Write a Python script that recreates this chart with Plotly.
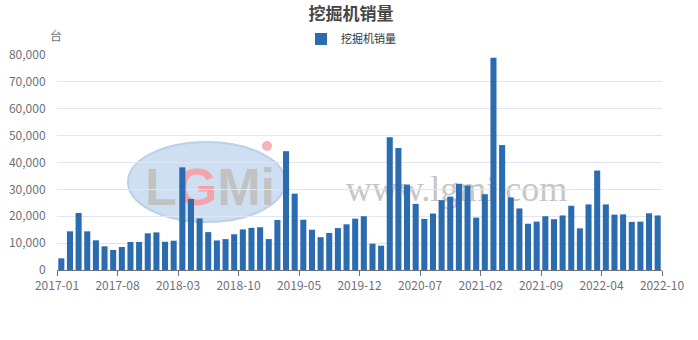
import plotly.graph_objects as go

# ---- data ----
months = [
    "2017-01","2017-02","2017-03","2017-04","2017-05","2017-06","2017-07","2017-08","2017-09","2017-10","2017-11","2017-12",
    "2018-01","2018-02","2018-03","2018-04","2018-05","2018-06","2018-07","2018-08","2018-09","2018-10","2018-11","2018-12",
    "2019-01","2019-02","2019-03","2019-04","2019-05","2019-06","2019-07","2019-08","2019-09","2019-10","2019-11","2019-12",
    "2020-01","2020-02","2020-03","2020-04","2020-05","2020-06","2020-07","2020-08","2020-09","2020-10","2020-11","2020-12",
    "2021-01","2021-02","2021-03","2021-04","2021-05","2021-06","2021-07","2021-08","2021-09","2021-10","2021-11","2021-12",
    "2022-01","2022-02","2022-03","2022-04","2022-05","2022-06","2022-07","2022-08","2022-09","2022-10",
]
sales = [
    4340, 14390, 21200, 14390, 11040, 8810, 7440, 8560, 10420, 10420, 13640, 14000,
    10500, 10900, 38200, 26400, 19200, 14100, 11000, 11500, 13300, 15100, 15700, 15900,
    11500, 18600, 44200, 28400, 18700, 15000, 12200, 13800, 15600, 17000, 19100, 20000,
    9800, 9050, 49400, 45400, 31800, 24600, 19000, 21000, 26000, 27300, 32100, 31400,
    19500, 28200, 79000, 46500, 27000, 22900, 17200, 18000, 20000, 18900, 20300, 23900,
    15500, 24400, 37000, 24400, 20600, 20700, 17900, 18000, 21100, 20300,
]
tick_labels = ["2017-01","2017-08","2018-03","2018-10","2019-05","2019-12",
               "2020-07","2021-02","2021-09","2022-04","2022-10"]
series_name = "挖掘机销量"
title_text = "挖掘机销量"
y_unit = "台"

# ---- layout geometry ----
W, H = 698, 340
L, R, T, B = 57, 36, 55, 70
PW, PH = W - L - R, H - T - B
YMAX = 80000
n = len(months)

def px(x):
    return (x - L) / PW

def py(y):
    return (H - B - y) / PH

def dx(x):
    return (x - L) / PW * n

def dy(y):
    return (H - B - y) / PH * YMAX

BAR_COLOR = "#2b6cb0"
AXIS_COLOR = "#6E7079"
GRID_COLOR = "#E0E6F1"
FONT = "Noto Sans CJK SC, Noto Sans, sans-serif"

xpos = [i + 0.5 for i in range(n)]
tickvals = [months.index(t) if t != months[-1] else n for t in tick_labels]

fig = go.Figure()
fig.add_trace(go.Bar(
    x=xpos, y=sales, name=series_name, marker_color=BAR_COLOR,
    marker_line_width=0, customdata=months,
    hovertemplate="%{customdata}<br>%{y:,}<extra></extra>",
))

shapes = [
    # watermark ellipse
    dict(type="circle", xref="x", yref="y",
         x0=dx(128), x1=dx(285), y0=dy(222), y1=dy(142),
         fillcolor="#cddff1", line=dict(color="#b9d1ea", width=2), layer="below"),
    dict(type="circle", xref="x", yref="y",
         x0=dx(262), x1=dx(272), y0=dy(151), y1=dy(141),
         fillcolor="#f6b3b8", line=dict(width=0), layer="below"),
    dict(type="rect", xref="x", yref="y",
         x0=dx(140), x1=dx(280), y0=dy(205), y1=dy(158),
         fillcolor="rgba(0,0,0,0)", line=dict(width=0), layer="below",
         label=dict(text="<b>L<span style='color:#f4a3aa'>G</span>Mi</b>",
                    font=dict(family="Liberation Sans", size=52, color="#c2c2c2"),
                    textposition="middle center")),
    dict(type="rect", xref="x", yref="y",
         x0=dx(343), x1=dx(570), y0=dy(206), y1=dy(164),
         fillcolor="rgba(0,0,0,0)", line=dict(width=0), layer="below",
         label=dict(text="www.lgmi.com",
                    font=dict(family="Liberation Serif", size=36, color="#c6c6c6"),
                    textposition="middle center")),
]

fig.update_layout(
    width=W, height=H,
    margin=dict(l=L, r=R, t=T, b=B, pad=0, autoexpand=False),
    paper_bgcolor="white", plot_bgcolor="white",
    font=dict(family=FONT, size=12, color=AXIS_COLOR),
    title=dict(text=f"<b>{title_text}</b>", x=351 / W, xanchor="center",
               y=1 - 14 / H, yanchor="middle", yref="container",
               font=dict(size=17, color="#464646", family=FONT)),
    showlegend=True,
    legend=dict(orientation="h", xref="container", yref="container",
                x=351 / W, xanchor="center", y=1 - 39 / H, yanchor="middle",
                font=dict(size=11, color="#333333", family=FONT),
                bgcolor="rgba(0,0,0,0)", itemclick=False),
    bargap=0.3,
    shapes=shapes,
    annotations=[dict(text=y_unit, xref="paper", yref="paper",
                      x=px(56), y=py(36), xanchor="center", yanchor="middle",
                      showarrow=False, font=dict(size=12, color=AXIS_COLOR, family=FONT))],
    xaxis=dict(range=[0, n], tickmode="array", tickvals=tickvals, ticktext=tick_labels,
               showgrid=False, zeroline=False, showline=True, linecolor=AXIS_COLOR,
               linewidth=1, ticks="outside", ticklen=5, tickcolor=AXIS_COLOR,
               tickfont=dict(size=12, color=AXIS_COLOR, family=FONT), fixedrange=True),
    yaxis=dict(range=[0, YMAX], dtick=10000, tickformat=",", showgrid=True,
               gridcolor=GRID_COLOR, gridwidth=1, zeroline=False, showline=False,
               ticks="outside", ticklen=8, tickcolor="rgba(0,0,0,0)",
               tickfont=dict(size=12, color=AXIS_COLOR, family=FONT), fixedrange=True),
)

fig.write_html("out.html")
